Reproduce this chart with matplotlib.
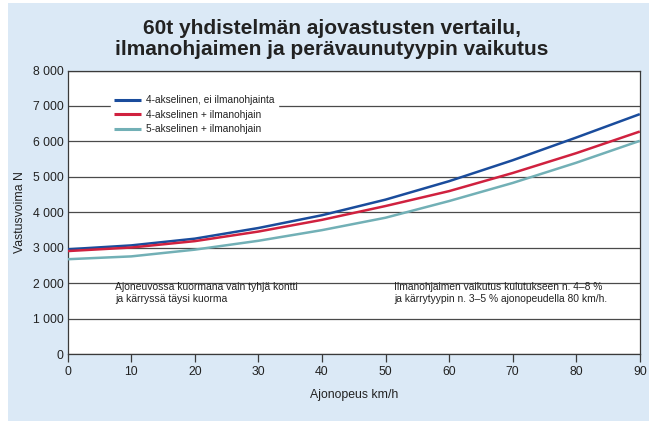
import matplotlib
matplotlib.use("Agg")
import matplotlib.pyplot as plt
from matplotlib.patches import Rectangle
from matplotlib.ticker import FuncFormatter, MultipleLocator

speed = [0, 10, 20, 30, 40, 50, 60, 70, 80, 90]
blue_4axle_no_deflector = [2960, 3070, 3260, 3560, 3920, 4360, 4880, 5470, 6110, 6770]
red_4axle_deflector = [2910, 3010, 3190, 3460, 3790, 4180, 4600, 5110, 5670, 6280]
teal_5axle_deflector = [2680, 2760, 2950, 3200, 3500, 3850, 4320, 4830, 5400, 6017]
labels = ["4-akselinen, ei ilmanohjainta", "4-akselinen + ilmanohjain", "5-akselinen + ilmanohjain"]
colors = ["#1a4c9c", "#d0213f", "#72b0b6"]

title = "60t yhdistelmän ajovastusten vertailu,\nilmanohjaimen ja perävaunutyypin vaikutus"
note_left = "Ajoneuvossa kuormana vain tyhjä kontti\nja kärryssä täysi kuorma"
note_right = "Ilmanohjaimen vaikutus kulutukseen n. 4–8 %\nja kärrytyypin n. 3–5 % ajonopeudella 80 km/h."

plt.rcParams['font.family'] = ['Liberation Sans', 'DejaVu Sans']
narrow = ['Liberation Sans Narrow', 'Liberation Sans', 'DejaVu Sans']

fig = plt.figure(figsize=(6.54, 4.21), dpi=100, facecolor="white")
fig.patches.append(Rectangle((8/654, 0), (649-8)/654, 1 - 3/421, transform=fig.transFigure,
                             facecolor="#dbe9f6", edgecolor="none", zorder=-10))

ax = fig.add_axes([67.7/654, 1 - 354.3/421, (639.8-67.7)/654, (354.3-70.5)/421])
ax.set_facecolor("white")

for ys, c, lab in zip([blue_4axle_no_deflector, red_4axle_deflector, teal_5axle_deflector], colors, labels):
    ax.plot(speed, ys, color=c, lw=1.8, label=lab, zorder=3, solid_capstyle="butt")

ax.set_xlim(0, 90)
ax.set_ylim(0, 8000)
ax.xaxis.set_major_locator(MultipleLocator(10))
ax.yaxis.set_major_locator(MultipleLocator(1000))
ax.yaxis.set_major_formatter(FuncFormatter(lambda v, p: f"{int(v):,}".replace(",", " ")))
ax.grid(axis="y", color="#4a4a4a", lw=0.9, zorder=1)
ax.set_axisbelow(True)
for s in ax.spines.values():
    s.set_color("#3a3a3a")
    s.set_linewidth(0.9)
ax.tick_params(axis="y", length=0, pad=3, labelsize=8.8, colors="#222222")
ax.tick_params(axis="x", length=5.5, width=0.9, pad=3, labelsize=8.8, colors="#3a3a3a", labelcolor="#222222")

ax.set_xlabel("Ajonopeus km/h", fontsize=8.8, color="#222222", labelpad=8)
ax.set_ylabel("Vastusvoima N", fontsize=8.8, color="#222222", labelpad=5)

fig.text(0.507, 1 - 39/421, title, ha="center", va="center", fontsize=15, fontweight="bold",
         color="#222222", linespacing=1.15)

leg = ax.legend(loc="upper left", bbox_to_anchor=(6.8/90, 1 - 600/8000), frameon=True,
                fancybox=False, framealpha=1, facecolor="white", edgecolor="white",
                prop={"family": narrow, "size": 7.3}, handlelength=2.6, handletextpad=0.5,
                labelspacing=0.45, borderpad=0.35, borderaxespad=0)
for h in leg.get_lines():
    h.set_linewidth(2.2)
for t in leg.get_texts():
    t.set_color("#222222")

ax.text(7.4, 1720, note_left, fontsize=7.5, family=narrow, color="#222222", va="center", ha="left",
        linespacing=1.25, zorder=4)
ax.text(51.4, 1720, note_right, fontsize=7.4, family=narrow, color="#222222", va="center", ha="left",
        linespacing=1.25, zorder=4)

fig.savefig("out.png", dpi=100, facecolor=fig.get_facecolor())
